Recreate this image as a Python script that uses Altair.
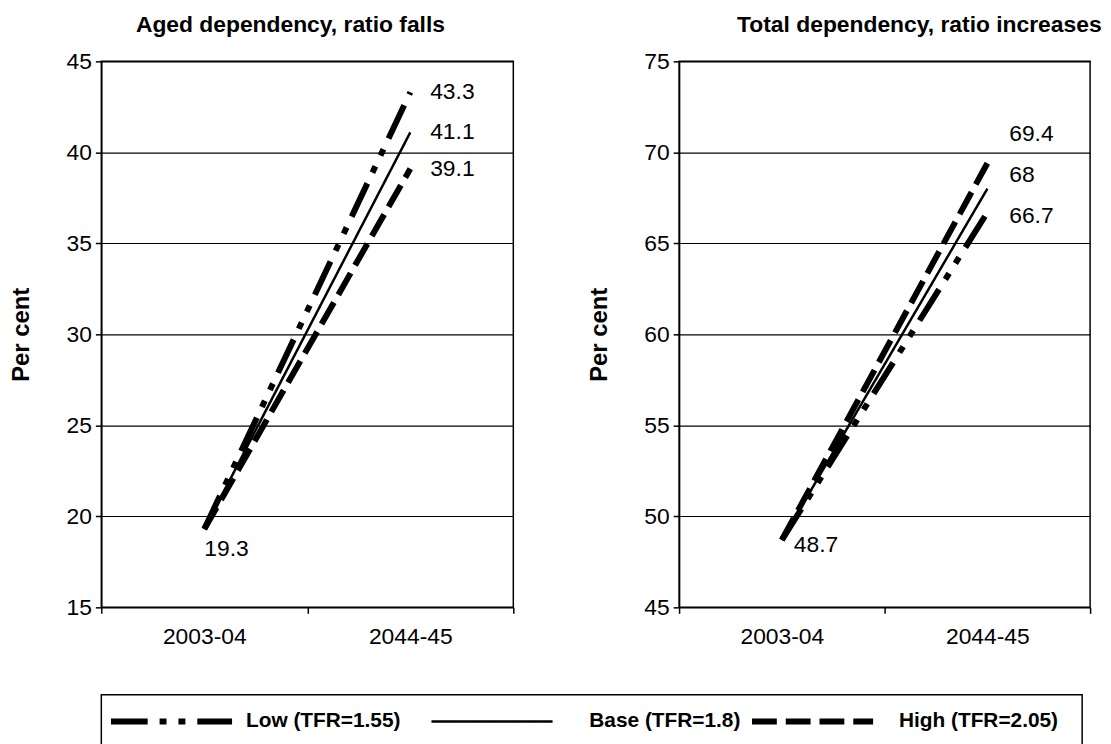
import altair as alt
import pandas as pd

# ---------------- data ----------------
categories = ["2003-04", "2044-45"]
series = ["Low (TFR=1.55)", "Base (TFR=1.8)", "High (TFR=2.05)"]

aged_start = [19.3, 19.3, 19.3]
aged_end = [43.3, 41.1, 39.1]

total_start = [48.7, 48.7, 48.7]
total_end = [66.7, 68.0, 69.4]

aged_ticks = [15, 20, 25, 30, 35, 40, 45]
total_ticks = [45, 50, 55, 60, 65, 70, 75]

# ---------------- styling ----------------
FONT = "Liberation Sans"
dash_range = [[37, 12, 7, 12, 7, 12], [1, 0], [25, 9]]
width_range = [6, 2.5, 6]

# label offsets (pixels) for the value annotations: (dx, dy)
aged_start_off = (0, 20)
aged_end_off = {"Low (TFR=1.55)": (20, 0), "Base (TFR=1.8)": (20, 0), "High (TFR=2.05)": (20, 0)}
total_start_off = (12, 5)
total_end_off = {"Low (TFR=1.55)": (22, 4), "Base (TFR=1.8)": (22, -14), "High (TFR=2.05)": (22, -29)}

# legend: gap from start of each legend line to its label (pixels)
legend_text_gap = {"Low (TFR=1.55)": 136, "Base (TFR=1.8)": 159, "High (TFR=2.05)": 148}


def fmt(v):
    return f"{v:g}"


def dash_scale():
    return alt.Scale(type="ordinal", domain=series, range=dash_range)


def width_scale():
    return alt.Scale(type="ordinal", domain=series, range=width_range)


def panel(title, start, end, ticks, start_off, end_off, w, title_dx):
    rows = []
    for s, a, b in zip(series, start, end):
        rows.append({"series": s, "cat": categories[0], "value": a})
        rows.append({"series": s, "cat": categories[1], "value": b})
    df = pd.DataFrame(rows)

    xenc = alt.X(
        "cat:N",
        sort=categories,
        scale=alt.Scale(type="band", paddingInner=0, paddingOuter=0),
        axis=alt.Axis(
            title=None, labelAngle=0, tickBand="extent", tickSize=6,
            tickColor="black", tickWidth=1.5, domain=False,
            labelFontSize=23, labelColor="black", labelPadding=12,
        ),
    )
    yenc = alt.Y(
        "value:Q",
        scale=alt.Scale(domain=[ticks[0], ticks[-1]], nice=False, zero=False),
        axis=alt.Axis(
            values=ticks, title="Per cent", titleFontSize=24, titleFontWeight="bold",
            titleColor="black", titlePadding=33, grid=True, gridColor="black",
            gridWidth=1.2, tickSize=6, tickColor="black", tickWidth=1.5,
            domainColor="black", domainWidth=1.5, labelFontSize=23,
            labelColor="black", labelPadding=4,
        ),
    )

    base = alt.Chart(df)
    lines = base.mark_line(color="black", strokeCap="butt").encode(
        x=xenc,
        y=yenc,
        strokeDash=alt.StrokeDash("series:N", scale=dash_scale(), legend=None),
        strokeWidth=alt.StrokeWidth("series:N", scale=width_scale(), legend=None),
        order=alt.Order("cat:N"),
    )

    layers = [lines]
    sdf = pd.DataFrame({"cat": [categories[0]], "value": [start[1]], "label": [fmt(start[1])]})
    layers.append(
        alt.Chart(sdf).mark_text(align="left", baseline="middle", fontSize=23, color="black",
                                 dx=start_off[0], dy=start_off[1]).encode(
            x=alt.X("cat:N", sort=categories), y="value:Q", text="label:N")
    )
    for s, b in zip(series, end):
        edf = pd.DataFrame({"cat": [categories[1]], "value": [b], "label": [fmt(b)]})
        dx, dy = end_off[s]
        layers.append(
            alt.Chart(edf).mark_text(align="left", baseline="middle", fontSize=23, color="black",
                                     dx=dx, dy=dy).encode(
                x=alt.X("cat:N", sort=categories), y="value:Q", text="label:N")
        )

    return alt.layer(*layers).properties(
        width=w, height=550,
        title=alt.TitleParams(title, fontSize=23, fontWeight="bold", color="black",
                              anchor="middle", offset=14, dx=title_dx),
    )


left = panel("Aged dependency, ratio falls", aged_start, aged_end, aged_ticks,
             aged_start_off, aged_end_off, 415, -17)
right = panel("Total dependency, ratio increases", total_start, total_end, total_ticks,
              total_start_off, total_end_off, 414, 35)

top = alt.hconcat(left, right, spacing=71)

# ---------------- legend ----------------
ldf = pd.DataFrame({"series": series})
lx = alt.X("series:N", sort=series, axis=None,
           scale=alt.Scale(type="band", domain=series, paddingInner=0, paddingOuter=0.03),
           bandPosition=0)
sym = alt.Chart(ldf).mark_point(shape="stroke", filled=False, color="black", opacity=1,
                                size=122 * 122, strokeCap="butt", xOffset=61).encode(
    x=lx,
    y=alt.value(27),
    strokeDash=alt.StrokeDash("series:N", scale=dash_scale(), legend=None),
    strokeWidth=alt.StrokeWidth("series:N", scale=width_scale(), legend=None),
)
leg_layers = [sym]
for s in series:
    leg_layers.append(
        alt.Chart(ldf).transform_filter(alt.datum.series == s).mark_text(
            align="left", baseline="middle", fontSize=21, fontWeight="bold",
            color="black", xOffset=legend_text_gap[s]).encode(
            x=lx, y=alt.value(27), text="series:N")
    )
legend = alt.layer(*leg_layers).properties(width=988, height=56)

chart = alt.vconcat(top, legend, spacing=45).properties(
    padding={"left": 0, "top": 2, "right": 0, "bottom": 0}
).configure(font=FONT).configure_view(stroke="black", strokeWidth=1.5)

chart.save("out.html", embed_options={"renderer": "svg", "actions": False})
